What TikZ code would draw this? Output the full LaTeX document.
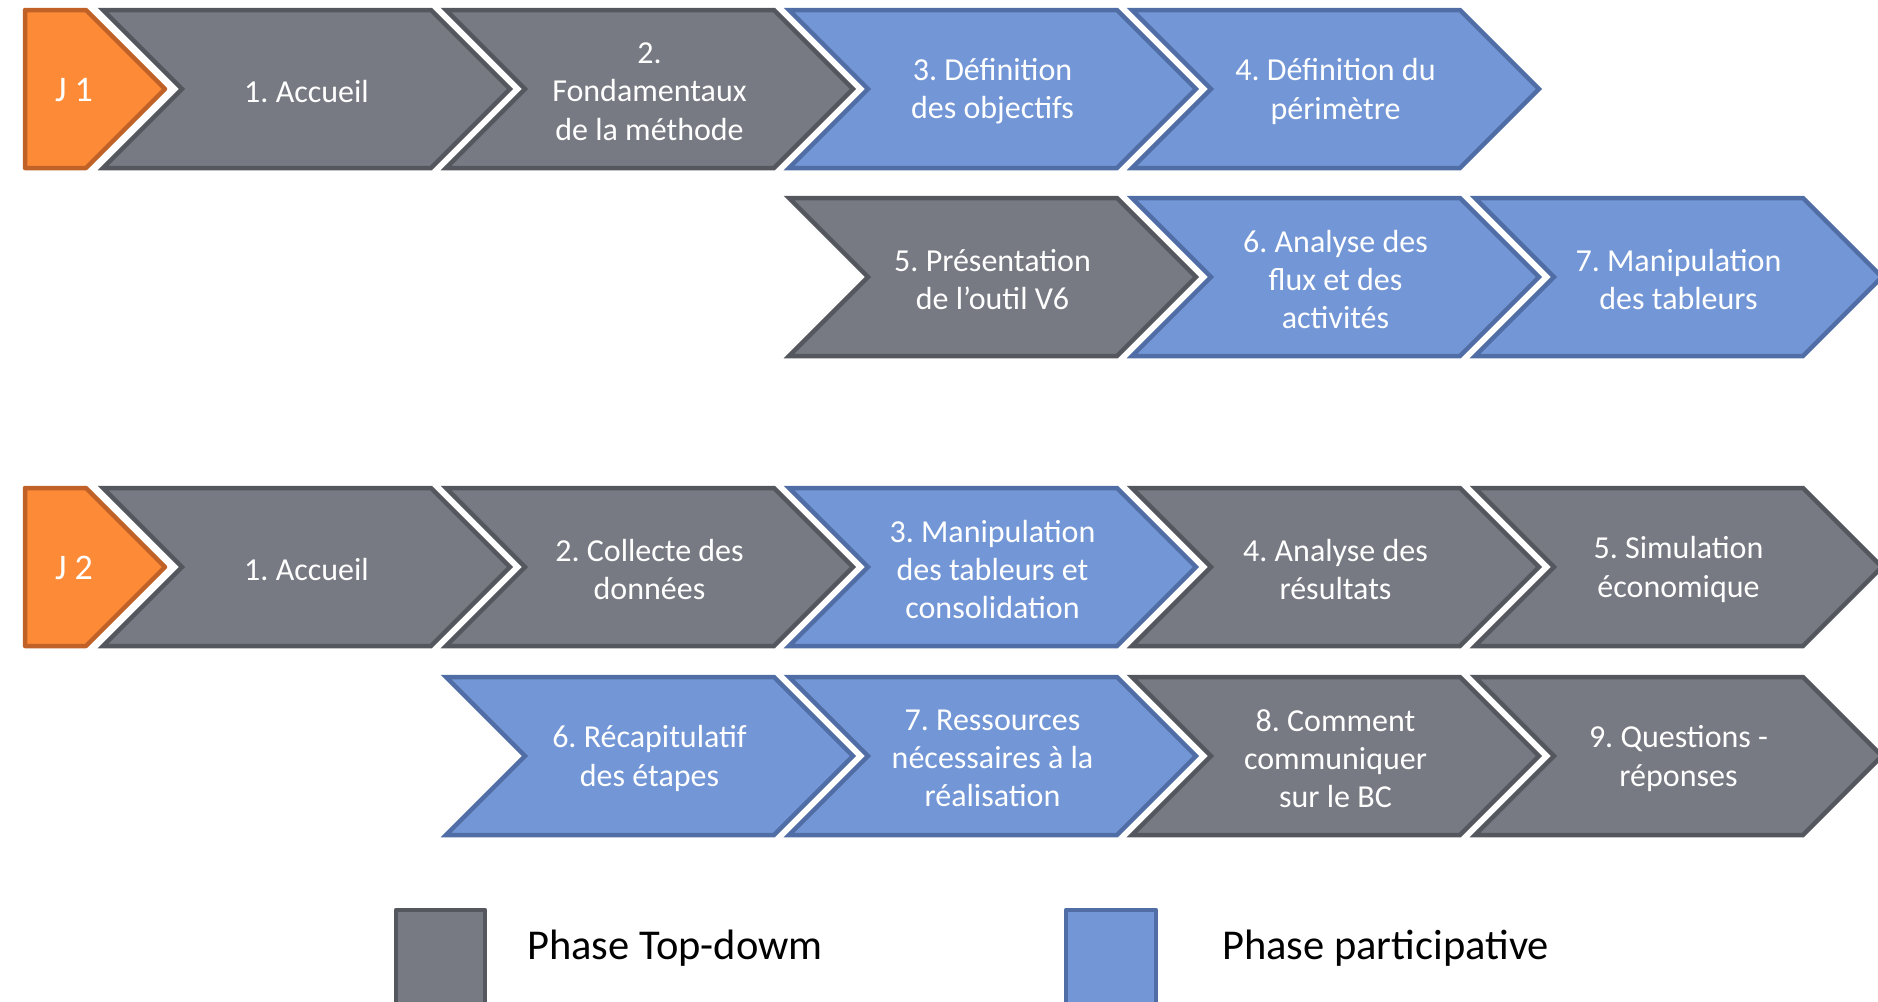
\documentclass[tikz,border=0pt]{standalone}
\usepackage{fontspec}
\setmainfont{Carlito}
\frenchspacing
\definecolor{grayfill}{RGB}{119,122,130}
\definecolor{grayline}{RGB}{84,87,94}
\definecolor{bluefill}{RGB}{115,151,214}
\definecolor{blueline}{RGB}{80,110,165}
\definecolor{orangefill}{RGB}{253,138,55}
\definecolor{orangeline}{RGB}{192,98,40}
\tikzset{
  graychev/.style={fill=grayfill,draw=grayline,line width=4.5pt},
  bluechev/.style={fill=bluefill,draw=blueline,line width=4.5pt},
  orangechev/.style={fill=orangefill,draw=orangeline,line width=4.5pt,line join=round},
  lbl/.style={text=white,align=center,inner sep=0pt,font=\frenchspacing\fontsize{32}{38.3}\selectfont},
  legtext/.style={text=black,anchor=west,inner sep=0pt,font=\fontsize{42.5}{50}\selectfont}
}
\newcommand\chev[5]{%
  \draw[#4] (#2,#3-79) -- ++(328,0) -- ++(79,79) -- ++(-79,79) -- ++(-328,0) -- ++(79,-79) -- cycle;
  \node[lbl] (#1) at (#2+203.5,#3+2.5) {#5};}
\newcommand\daybox[4]{%
  \draw[orangechev] (25,#2-79) -- (86,#2-79) -- (165,#2) -- (86,#2+79) -- (25,#2+79) -- cycle;
  \node[lbl,font=\fontsize{36}{40}\selectfont] (#1) at (#3,#2+1) {#4};}
\begin{document}
\begin{tikzpicture}[x=1pt,y=-1pt]
\useasboundingbox (0,0) rectangle (1878,1001);
% Row 1
\daybox{j1}{89}{74}{J 1}
\chev{a1}{103}{89}{graychev}{1. Accueil}
\chev{a2}{446}{89}{graychev}{2.\\Fondamentaux\\de la méthode}
\chev{a3}{789}{89}{bluechev}{3. Définition\\des objectifs}
\chev{a4}{1132}{89}{bluechev}{4. Définition du\\périmètre}
% Row 2
\chev{a5}{789}{277}{graychev}{5. Présentation\\de l’outil V6}
\chev{a6}{1132}{277}{bluechev}{6. Analyse des\\flux et des\\activités}
\chev{a7}{1475}{277}{bluechev}{7. Manipulation\\des tableurs}
% Row 3
\daybox{j2}{567}{74}{J 2}
\chev{b1}{103}{567}{graychev}{1. Accueil}
\chev{b2}{446}{567}{graychev}{2. Collecte des\\données}
\chev{b3}{789}{567}{bluechev}{3. Manipulation\\des tableurs et\\consolidation}
\chev{b4}{1132}{567}{graychev}{4. Analyse des\\résultats}
\chev{b5}{1475}{567}{graychev}{5. Simulation\\économique}
% Row 4
\chev{b6}{446}{756}{bluechev}{6. Récapitulatif\\des étapes}
\chev{b7}{789}{756}{bluechev}{7. Ressources\\nécessaires à la\\réalisation}
\chev{b8}{1132}{756}{graychev}{8. Comment\\communiquer\\sur le BC}
\chev{b9}{1475}{756}{graychev}{9. Questions -\\réponses}
% Legend
\draw[graychev,line join=round] (396,910) rectangle (485,1012);
\node[legtext] (lg1) at (527,948) {Phase Top-dowm};
\draw[bluechev,line join=round] (1066,910) rectangle (1156,1012);
\node[legtext] (lg2) at (1222,948) {Phase participative};
\end{tikzpicture}
\end{document}
